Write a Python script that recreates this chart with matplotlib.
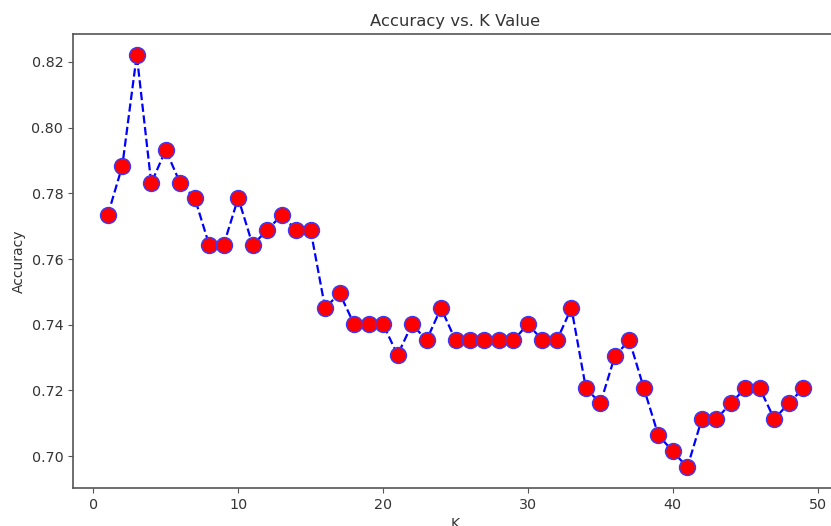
import matplotlib
matplotlib.use("Agg")
import matplotlib.pyplot as plt

k_values = list(range(1, 50))
accuracy = [0.7734, 0.7883, 0.8221, 0.7831, 0.7932, 0.7831, 0.7786, 0.7643, 0.7643, 0.7786,
            0.7643, 0.7688, 0.7734, 0.7688, 0.7688, 0.7451, 0.7496, 0.7402, 0.7402, 0.7402,
            0.7308, 0.7402, 0.7353, 0.7451, 0.7353, 0.7353, 0.7353, 0.7353, 0.7353, 0.7402,
            0.7353, 0.7353, 0.7451, 0.7207, 0.7161, 0.7305, 0.7353, 0.7207, 0.7064, 0.7015,
            0.6966, 0.7113, 0.7113, 0.7161, 0.7207, 0.7207, 0.7113, 0.7161, 0.7207]

text_color = '#333333'
fig = plt.figure(figsize=(8.31, 5.26), dpi=100)
ax = fig.add_axes([73/831, 38/526, (838-73)/831, (488-34.4)/526])
ax.plot(k_values, accuracy, color='blue', linestyle='dashed', marker='o',
        markerfacecolor='red', markeredgecolor='#3a3aff', markersize=11.5, linewidth=1.6)
ax.set_title('Accuracy vs. K Value', fontsize=11.8, color=text_color)
ax.set_xlabel('K', fontsize=10, color=text_color)
ax.set_ylabel('Accuracy', fontsize=10, color=text_color)
ax.tick_params(labelsize=10.3, labelcolor=text_color, color='#555555')
for s in ax.spines.values():
    s.set_color('#555555')
    s.set_linewidth(1.2)
fig.savefig('out.png', dpi=100)
